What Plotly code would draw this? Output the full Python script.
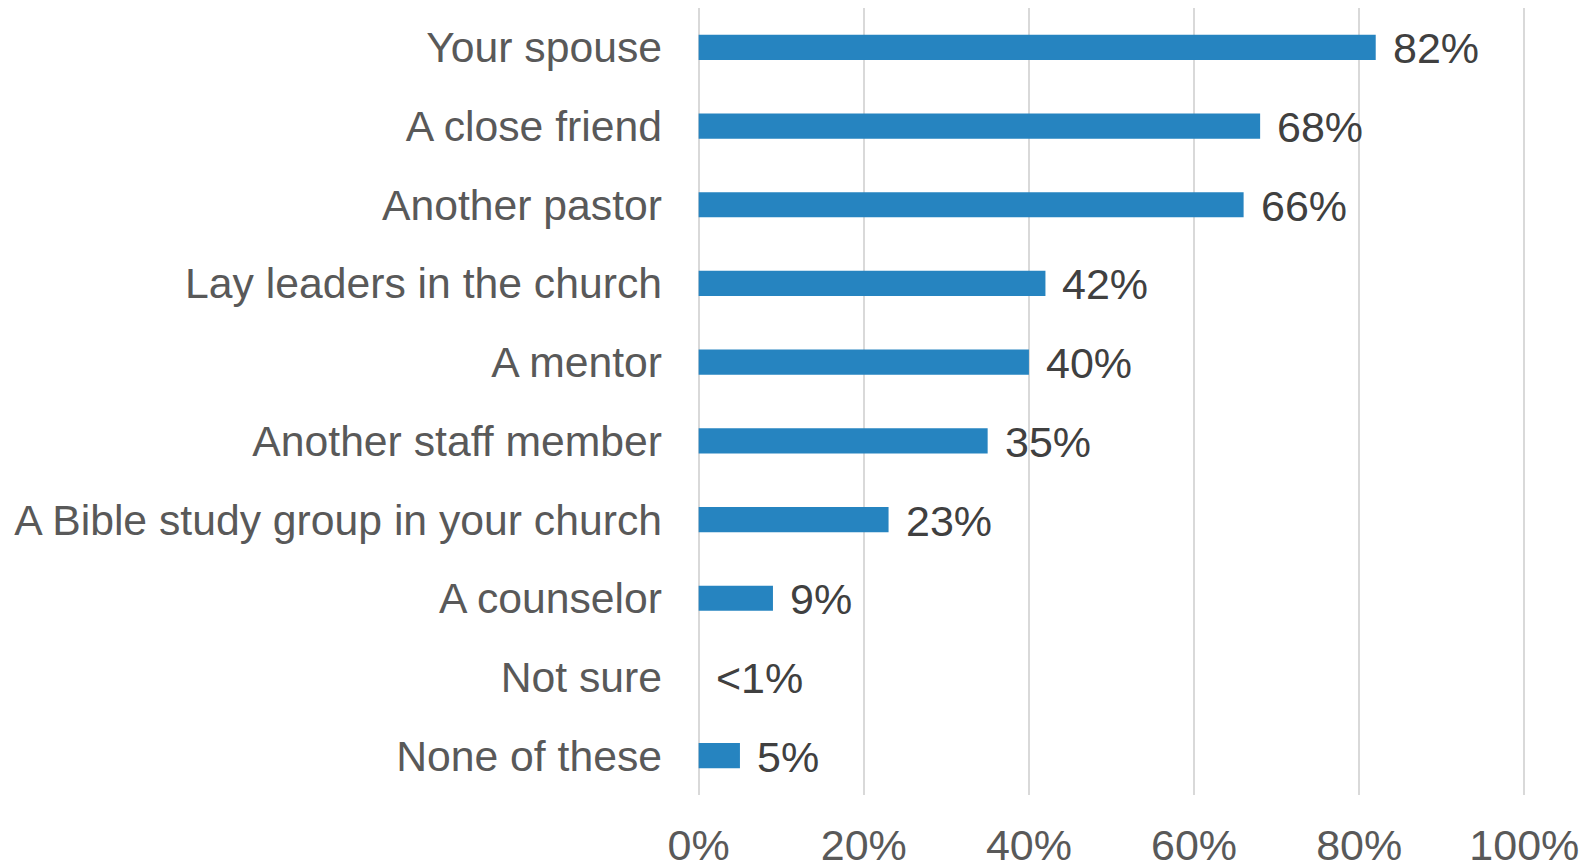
import plotly.graph_objects as go

categories = ["Your spouse", "A close friend", "Another pastor", "Lay leaders in the church",
              "A mentor", "Another staff member", "A Bible study group in your church",
              "A counselor", "Not sure", "None of these"]
values = [0.82, 0.68, 0.66, 0.42, 0.40, 0.35, 0.23, 0.09, 0.0, 0.05]
labels = ["82%", "68%", "66%", "42%", "40%", "35%", "23%", "9%", "<1%", "5%"]
tick_vals = [0, 0.2, 0.4, 0.6, 0.8, 1.0]
tick_text = ["0%", "20%", "40%", "60%", "80%", "100%"]

FONT = "Liberation Sans, Arial, sans-serif"

fig = go.Figure(go.Bar(
    x=values, y=categories, orientation="h",
    marker=dict(color="#2684c0", line=dict(width=0)),
    width=0.32,
))

for v, c, t in zip(values, categories, labels):
    fig.add_annotation(x=v, y=c, text=t, showarrow=False, xanchor="left",
                       xshift=15, yshift=-1,
                       font=dict(family=FONT, size=43, color="#404040"))

# page body has an 8px default margin, so the figure is sized to fit
fig.update_layout(
    width=1584, height=855,
    margin=dict(l=689, r=66, t=0, b=68, pad=0, autoexpand=False),
    plot_bgcolor="white", paper_bgcolor="white",
    showlegend=False,
    font=dict(family=FONT),
)
fig.update_xaxes(range=[-0.002, 1.002], tickvals=tick_vals, ticktext=tick_text,
                 showgrid=True, gridcolor="#d9d9d9", gridwidth=1.5,
                 zeroline=False, showline=False, automargin=False,
                 tickfont=dict(family=FONT, size=43, color="#595959"),
                 ticklabelstandoff=21)
fig.update_yaxes(categoryorder="array", categoryarray=categories, autorange="reversed",
                 showgrid=False, zeroline=False, showline=False, automargin=False,
                 tickfont=dict(family=FONT, size=42.7, color="#595959"),
                 ticklabelstandoff=34)

fig.write_html("out.html")
